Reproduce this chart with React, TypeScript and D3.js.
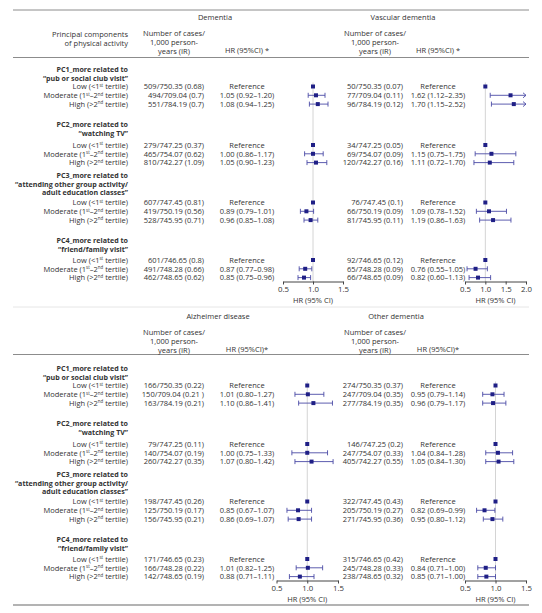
import React, { useEffect, useRef } from 'react';
import * as d3 from 'd3';

// Row labels
const groupTitles: string[][] = [
    ["PC1_more related to", "\u201Cpub or social club visit\u201D"],
    ["PC2_more related to", "\u201Cwatching TV\u201D"],
    ["PC3_more related to", "\u201Cattending other group activity/", "adult education classes\u201D"],
    ["PC4_more related to", "\u201Cfriend/family visit\u201D"],
];

// [text, isSuperscript]
const levelLabels: [string, boolean][][] = [
    [["Low (<1", false], ["st", true], [" tertile)", false]],
    [["Moderate (1", false], ["st", true], ["\u20132", false], ["nd", true], [" tertile)", false]],
    [["High (>2", false], ["nd", true], [" tertile)", false]],
];

const outcomeNames = ["Dementia", "Vascular dementia", "Alzheimer disease", "Other dementia"];
const hrHeaders = ["HR (95%CI) *", "HR (95%CI) *", "HR (95%CI)*", "HR (95%CI)*"];
const casesHeader = ["Number of cases/", "1,000 person-", "years (IR)"];
const pcHeader = ["Principal components", "of physical activity"];

// Dementia
const dementiaCases = ["509/750.35 (0.68)", "494/709.04 (0.7)", "551/784.19 (0.7)", "279/747.25 (0.37)", "465/754.07 (0.62)", "810/742.27 (1.09)", "607/747.45 (0.81)", "419/750.19 (0.56)", "528/745.95 (0.71)", "601/746.65 (0.8)", "491/748.28 (0.66)", "462/748.65 (0.62)"];
const dementiaHR = [1, 1.05, 1.08, 1, 1.00, 1.05, 1, 0.89, 0.96, 1, 0.87, 0.85];
const dementiaLo = [null, 0.92, 0.94, null, 0.86, 0.90, null, 0.79, 0.85, null, 0.77, 0.75];
const dementiaHi = [null, 1.20, 1.25, null, 1.17, 1.23, null, 1.01, 1.08, null, 0.98, 0.96];

// Vascular dementia
const vascularCases = ["50/750.35 (0.07)", "77/709.04 (0.11)", "96/784.19 (0.12)", "34/747.25 (0.05)", "69/754.07 (0.09)", "120/742.27 (0.16)", "76/747.45 (0.1)", "66/750.19 (0.09)", "81/745.95 (0.11)", "92/746.65 (0.12)", "65/748.28 (0.09)", "66/748.65 (0.09)"];
const vascularHR = [1, 1.62, 1.70, 1, 1.15, 1.11, 1, 1.09, 1.19, 1, 0.76, 0.82];
const vascularLo = [null, 1.12, 1.15, null, 0.75, 0.72, null, 0.78, 0.86, null, 0.55, 0.60];
const vascularHi = [null, 2.35, 2.52, null, 1.75, 1.70, null, 1.52, 1.63, null, 1.05, 1.13];

// Alzheimer disease
const alzheimerCases = ["166/750.35 (0.22)", "150/709.04 (0.21 )", "163/784.19 (0.21)", "79/747.25 (0.11)", "140/754.07 (0.19)", "260/742.27 (0.35)", "198/747.45 (0.26)", "125/750.19 (0.17)", "156/745.95 (0.21)", "171/746.65 (0.23)", "166/748.28 (0.22)", "142/748.65 (0.19)"];
const alzheimerHR = [1, 1.01, 1.10, 1, 1.00, 1.07, 1, 0.85, 0.86, 1, 1.01, 0.88];
const alzheimerLo = [null, 0.80, 0.86, null, 0.75, 0.80, null, 0.67, 0.69, null, 0.82, 0.71];
const alzheimerHi = [null, 1.27, 1.41, null, 1.33, 1.42, null, 1.07, 1.07, null, 1.25, 1.11];

// Other dementia
const otherCases = ["274/750.35 (0.37)", "247/709.04 (0.35)", "277/784.19 (0.35)", "146/747.25 (0.2)", "247/754.07 (0.33)", "405/742.27 (0.55)", "322/747.45 (0.43)", "205/750.19 (0.27)", "271/745.95 (0.36)", "315/746.65 (0.42)", "245/748.28 (0.33)", "238/748.65 (0.32)"];
const otherHR = [1, 0.95, 0.96, 1, 1.04, 1.05, 1, 0.82, 0.95, 1, 0.84, 0.85];
const otherLo = [null, 0.79, 0.79, null, 0.84, 0.84, null, 0.69, 0.80, null, 0.71, 0.71];
const otherHi = [null, 1.14, 1.17, null, 1.28, 1.30, null, 0.99, 1.12, null, 1.00, 1.00];

const axisDomains: [number, number][] = [[0.5, 1.5], [0.5, 2.0], [0.5, 1.5], [0.5, 1.5]];
const axisTicks = [[0.5, 1, 1.5], [0.5, 1, 1.5, 2], [0.5, 1, 1.5], [0.5, 1, 1.5]];

const width = 542;
const height = 613;
const FONT = "'Open Sans', 'Noto Sans', sans-serif";
const FS = 7.5;
const TEXT = "#333";

const App: React.FC = () => {
    const svgRef = useRef<SVGSVGElement>(null);

    useEffect(() => {
        if (!svgRef.current) return;
        const svg = d3.select(svgRef.current);
        svg.selectAll("*").remove();

        const outcomes = [
            { cases: dementiaCases, hr: dementiaHR, lo: dementiaLo, hi: dementiaHi },
            { cases: vascularCases, hr: vascularHR, lo: vascularLo, hi: vascularHi },
            { cases: alzheimerCases, hr: alzheimerHR, lo: alzheimerLo, hi: alzheimerHi },
            { cases: otherCases, hr: otherHR, lo: otherLo, hi: otherHi },
        ];

        // layout
        const panelY = [0, 299];
        const labelY0 = [69.5, 124.5, 175, 240.5];
        const rowY0 = [86.5, 145, 202.5, 260];
        const lineGap = 8.8;
        const axisY = 281.5;
        const side = [
            { cases: 204, hr: 247, num: 174 },
            { cases: 403, hr: 438, num: 375 },
        ];
        const titleX = [215, 403, 218, 396];
        const plotRanges: [number, number][] = [[283, 343], [465, 526], [276.5, 338], [465, 526]];
        const fmt = d3.format(".2f");
        const BASE = 2.7; // centre -> baseline

        const addText = (g: any, x: number, y: number, txt: string, anchor = "middle", weight = "normal", fs = FS) =>
            g.append("text")
                .attr("x", x).attr("y", y + BASE)
                .attr("text-anchor", anchor)
                .attr("font-family", FONT)
                .attr("font-size", fs)
                .attr("font-weight", weight)
                .attr("fill", TEXT)
                .text(txt);

        const hline = (y: number, color: string, w = 1) =>
            svg.append("line")
                .attr("x1", 13).attr("x2", 529)
                .attr("y1", y).attr("y2", y)
                .attr("stroke", color).attr("stroke-width", w);

        // rules
        hline(10, "#8c8c8c");
        hline(57.5, "#8c8c8c", 1.2);
        hline(307, "#e6e6e6");
        hline(299 + 55.5, "#8c8c8c", 1.2);
        hline(605, "#9a9a9a", 1.3);

        [0, 1].forEach(p => {
            const g = svg.append("g").attr("transform", `translate(0,${panelY[p]})`);

            if (p === 0) {
                pcHeader.forEach((t, i) => addText(g, 128, 34.5 + i * 9, t, "end"));
            }

            // group labels and level labels
            groupTitles.forEach((lines, gi) => {
                lines.forEach((t, li) => addText(g, 128, labelY0[gi] + li * lineGap, t, "end", "bold", 7.1));
                levelLabels.forEach((segs, li) => {
                    const txt = g.append("text")
                        .attr("x", 128).attr("y", rowY0[gi] + li * lineGap + BASE)
                        .attr("text-anchor", "end")
                        .attr("font-family", FONT)
                        .attr("font-size", FS)
                        .attr("fill", TEXT);
                    let raised = false;
                    segs.forEach(([s, sup]) => {
                        const span = txt.append("tspan")
                            .attr("font-size", sup ? 4.4 : FS)
                            .text(s);
                        if (sup && !raised) { span.attr("dy", -2.4); raised = true; }
                        else if (!sup && raised) { span.attr("dy", 2.4); raised = false; }
                    });
                });
            });

            [0, 1].forEach(s => {
                const oi = p * 2 + s;
                const o = outcomes[oi];
                const lay = side[s];

                // headers
                addText(g, titleX[oi], 17.3, outcomeNames[oi]);
                casesHeader.forEach((t, i) => addText(g, lay.num, 33.3 + i * 9, t));
                addText(g, lay.hr, 50.5, hrHeaders[oi]);

                const x = d3.scaleLinear().domain(axisDomains[oi]).range(plotRanges[oi]);
                const [xmin, xmax] = axisDomains[oi];

                // reference line at 1
                g.append("line")
                    .attr("x1", x(1)).attr("x2", x(1))
                    .attr("y1", rowY0[0] - 4).attr("y2", axisY)
                    .attr("stroke", "#d4d4d4").attr("stroke-width", 1);

                groupTitles.forEach((_, gi) => {
                    [0, 1, 2].forEach(li => {
                        const idx = gi * 3 + li;
                        const y = rowY0[gi] + li * lineGap;
                        addText(g, lay.cases, y, o.cases[idx], "end");
                        const lo = o.lo[idx];
                        const hi = o.hi[idx];
                        const hr = o.hr[idx];
                        addText(g, lay.hr, y, lo == null ? "Reference" : `${fmt(hr)} (${fmt(lo)}\u2013${fmt(hi as number)})`);

                        if (lo != null && hi != null) {
                            const x0 = x(Math.max(lo, xmin));
                            const clipped = hi > xmax;
                            const x1 = x(Math.min(hi, xmax));
                            const ci = g.append("g")
                                .attr("stroke", "#4b4ba6").attr("stroke-width", 0.9).attr("fill", "none");
                            ci.append("line").attr("x1", x0).attr("x2", x1).attr("y1", y).attr("y2", y);
                            ci.append("line").attr("x1", x0).attr("x2", x0).attr("y1", y - 2.5).attr("y2", y + 2.5);
                            if (clipped) {
                                ci.append("path")
                                    .attr("d", `M${x1 - 3},${y - 2.5}L${x1},${y}L${x1 - 3},${y + 2.5}`);
                            } else {
                                ci.append("line").attr("x1", x1).attr("x2", x1).attr("y1", y - 2.5).attr("y2", y + 2.5);
                            }
                        }
                        g.append("rect")
                            .attr("x", x(hr) - 2).attr("y", y - 2)
                            .attr("width", 4).attr("height", 4)
                            .attr("fill", "#1f1f86");
                    });
                });

                // axis
                const axis = g.append("g")
                    .attr("transform", `translate(0,${axisY})`)
                    .call(d3.axisBottom(x).tickValues(axisTicks[oi]).tickFormat(d3.format(".1f")).tickSize(3).tickSizeOuter(0));
                axis.select(".domain").attr("stroke", "#444");
                axis.selectAll(".tick line").attr("stroke", "#444");
                axis.selectAll(".tick text")
                    .attr("font-family", FONT)
                    .attr("font-size", 7.8)
                    .attr("fill", TEXT)
                    .attr("y", 4.5);

                addText(g, (plotRanges[oi][0] + plotRanges[oi][1]) / 2, 300.5, "HR (95% CI)");
            });
        });
    }, []);

    return (
        <div style={{ position: 'absolute', left: 0, top: 0 }}>
            <svg ref={svgRef} width={width} height={height} style={{ display: 'block', background: '#fff' }} />
        </div>
    );
};

export default App;
